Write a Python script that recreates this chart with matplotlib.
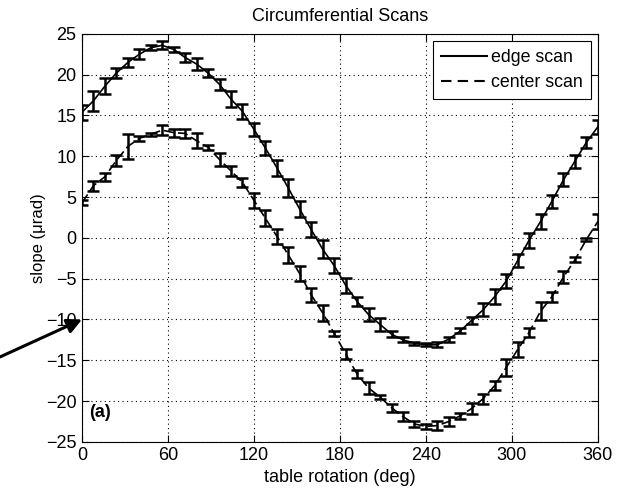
import numpy as np
import matplotlib.pyplot as plt

plt.rcParams['font.family'] = ['Liberation Sans', 'DejaVu Sans']

# table rotation angles (deg), one reading every 8 deg
angle = np.arange(0, 361, 8)

# slope readings (urad) and their error half-widths
edge = [15.4, 16.8, 18.6, 20.2, 21.5, 22.5, 23.3, 23.6, 23.1, 22.1,
        21.3, 20.2, 18.8, 17.0, 15.5, 13.3, 11.0, 8.6, 6.1, 3.5,
        1.0, -1.4, -3.4, -5.8, -7.8, -9.4, -10.6, -11.8, -12.5, -12.9,
        -13.1, -13.1, -12.4, -11.4, -10.1, -8.8, -7.2, -5.3, -2.8, -0.3,
        2.0, 4.5, 7.1, 9.4, 11.7, 13.6]
edge_err = [0.9, 1.2, 1.0, 0.6, 0.5, 0.6, 0.3, 0.5, 0.3, 0.6,
            0.7, 0.5, 0.7, 1.0, 0.9, 0.8, 0.9, 1.0, 1.1, 1.0,
            0.9, 1.1, 0.9, 0.9, 0.5, 0.8, 0.8, 0.4, 0.3, 0.2,
            0.2, 0.3, 0.3, 0.3, 0.4, 0.8, 0.9, 0.9, 0.8, 0.9,
            0.9, 0.8, 0.8, 0.8, 0.7, 0.9]
center = [4.3, 6.4, 7.5, 9.5, 11.2, 12.2, 12.7, 13.2, 12.9, 12.8,
          11.9, 11.1, 9.6, 8.2, 6.8, 4.6, 2.4, 0.2, -2.1, -4.4,
          -7.0, -9.2, -11.7, -14.2, -16.7, -18.4, -19.5, -20.8, -21.9, -22.8,
          -23.1, -23.0, -22.5, -21.8, -20.9, -19.7, -18.1, -15.9, -13.7, -11.6,
          -9.0, -7.2, -4.8, -2.7, -0.2, 2.0]
center_err = [0.3, 0.6, 0.5, 0.7, 1.5, 0.3, 0.2, 0.6, 0.5, 0.5,
              0.9, 0.3, 0.8, 0.6, 0.6, 0.9, 1.0, 0.9, 1.0, 0.9,
              0.8, 1.0, 0.3, 0.6, 0.5, 0.7, 0.3, 0.5, 0.6, 0.4,
              0.3, 0.5, 0.5, 0.4, 0.7, 0.6, 0.6, 1.0, 0.9, 0.5,
              1.1, 0.6, 0.7, 0.3, 0.2, 0.9]

fig = plt.figure(figsize=(6.26, 4.91), dpi=100)
ax = fig.add_axes([0.131, 0.10, 0.824, 0.831])

ax.errorbar(angle, edge, yerr=edge_err, color='black', lw=1.2,
            elinewidth=1.8, capsize=4, capthick=1.8)
ax.errorbar(angle, center, yerr=center_err, color='black', lw=1.2,
            ls=(0, (6, 2.5)), elinewidth=1.8, capsize=4, capthick=1.8)

# legend uses plain line handles
h1, = ax.plot([], [], color='black', lw=1.5, label='edge scan')
h2, = ax.plot([], [], color='black', lw=1.5, ls=(0, (5, 3)), label='center scan')
leg = ax.legend(handles=[h1, h2], loc='upper right', fontsize=12.8,
                handlelength=2.6, handletextpad=0.2, borderpad=0.45,
                labelspacing=0.45, fancybox=False, framealpha=1,
                borderaxespad=0.4)
leg.get_frame().set_edgecolor('black')
leg.get_frame().set_linewidth(0.8)

ax.set_xlim(0, 360)
ax.set_ylim(-25, 25)
ax.set_xticks(np.arange(0, 361, 60))
ax.set_yticks(np.arange(-25, 26, 5))
ax.grid(True, color='black', ls=(0, (1, 3)), lw=0.8)
ax.tick_params(direction='in', top=True, right=True, labelsize=13, length=5,
               pad=4)
for s in ax.spines.values():
    s.set_linewidth(0.8)

ax.set_title('Circumferential Scans', fontsize=13, pad=9)
ax.set_xlabel('table rotation (deg)', fontsize=13, labelpad=3)
ax.set_ylabel('slope (\u03bcrad)', fontsize=12, labelpad=0)

ax.text(5, -21.9, '(a)', fontsize=13, fontweight='bold')

ax.annotate('', xy=(0, -10), xycoords='data',
            xytext=(0, 0.273), textcoords='figure fraction',
            arrowprops=dict(arrowstyle='-|>', color='black', lw=2.2,
                            mutation_scale=22, shrinkA=0, shrinkB=0),
            annotation_clip=False)

fig.savefig('out.png', dpi=100)
